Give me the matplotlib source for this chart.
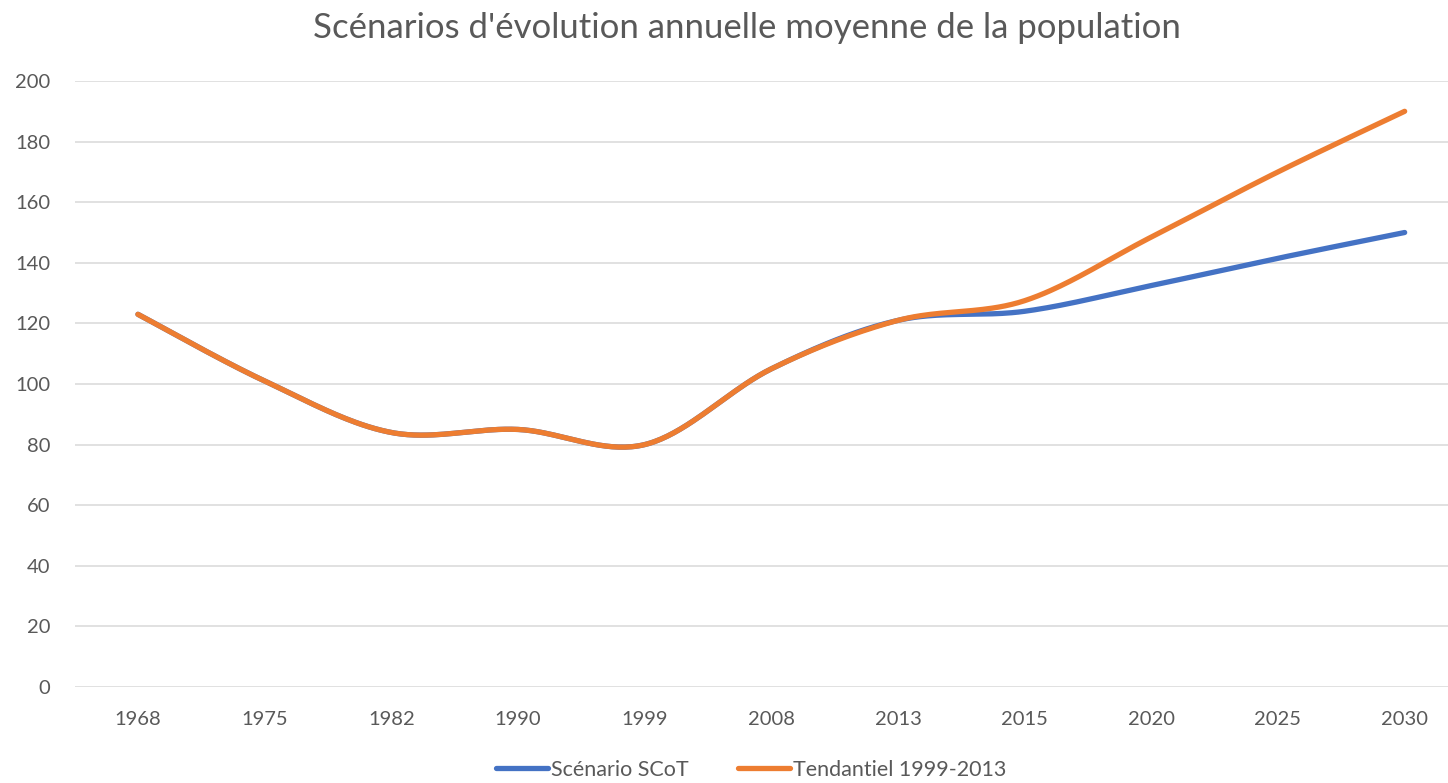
import numpy as np
import matplotlib
matplotlib.use("Agg")
import matplotlib.pyplot as plt
from matplotlib.lines import Line2D

categories = ["1968", "1975", "1982", "1990", "1999", "2008", "2013", "2015", "2020", "2025", "2030"]
scot = [123, 101, 84, 85, 80, 105, 121, 124, 132.5, 141.5, 150]
tendanciel = [123, 101, 84, 85, 80, 105, 121, 127.5, 148.5, 170, 190]
yticks = [0, 20, 40, 60, 80, 100, 120, 140, 160, 180, 200]

plt.rcParams['font.family'] = ['Lato', 'DejaVu Sans']


def smooth(xs, ys, n=40):
    xs = np.asarray(xs, float)
    ys = np.asarray(ys, float)
    px, py = [], []
    m = len(xs)
    for i in range(m - 1):
        p0 = (xs[max(i - 1, 0)], ys[max(i - 1, 0)])
        p1 = (xs[i], ys[i])
        p2 = (xs[i + 1], ys[i + 1])
        p3 = (xs[min(i + 2, m - 1)], ys[min(i + 2, m - 1)])
        c1 = (p1[0] + (p2[0] - p0[0]) / 6, p1[1] + (p2[1] - p0[1]) / 6)
        c2 = (p2[0] - (p3[0] - p1[0]) / 6, p2[1] - (p3[1] - p1[1]) / 6)
        t = np.linspace(0, 1, n)
        bx = (1 - t) ** 3 * p1[0] + 3 * (1 - t) ** 2 * t * c1[0] + 3 * (1 - t) * t ** 2 * c2[0] + t ** 3 * p2[0]
        by = (1 - t) ** 3 * p1[1] + 3 * (1 - t) ** 2 * t * c1[1] + 3 * (1 - t) * t ** 2 * c2[1] + t ** 3 * p2[1]
        px.extend(bx)
        py.extend(by)
    return np.array(px), np.array(py)


W, H = 1448, 783
fig = plt.figure(figsize=(W / 100, H / 100), dpi=100)
ax = fig.add_axes([74.6 / W, 96 / H, (1468 - 74.6) / W, 606 / H])

x = np.arange(len(categories))
blue = "#4472C4"
orange = "#ED7D31"
sx, sy = smooth(x, scot)
ax.plot(sx, sy, color=blue, lw=3.8, solid_capstyle='round', zorder=3)
tx, ty = smooth(x, tendanciel)
ax.plot(tx, ty, color=orange, lw=3.8, solid_capstyle='round', zorder=4)

ax.set_xlim(-0.5, len(categories) - 0.5)
ax.set_ylim(0, 200)
ax.set_yticks(yticks)
ax.set_yticklabels([str(v) for v in yticks])
ax.set_xticks(x)
ax.set_xticklabels(categories)
ax.grid(axis='y', color='#D9D9D9', lw=1.1)
ax.set_axisbelow(True)
for s in ax.spines.values():
    s.set_visible(False)
ax.tick_params(axis='both', length=0, labelsize=14.5, labelcolor='#595959')
ax.tick_params(axis='x', pad=17)
ax.tick_params(axis='y', pad=17.5)

fig.text(747 / W, 1 - 28 / H, "Scénarios d'évolution annuelle moyenne de la population",
         ha='center', va='center', fontsize=25, color='#595959')

handles = [Line2D([], [], color=blue, lw=3.8, solid_capstyle='round'),
           Line2D([], [], color=orange, lw=3.8, solid_capstyle='round')]
fig.legend(handles, ["Scénario SCoT", "Tendantiel 1999-2013"], loc='center',
           bbox_to_anchor=(751 / W, 1 - 770 / H), ncol=2, frameon=False,
           fontsize=15.5, labelcolor='#595959', handlelength=2.4, handletextpad=0.15,
           columnspacing=2.3)

fig.savefig("out.png", dpi=100)
